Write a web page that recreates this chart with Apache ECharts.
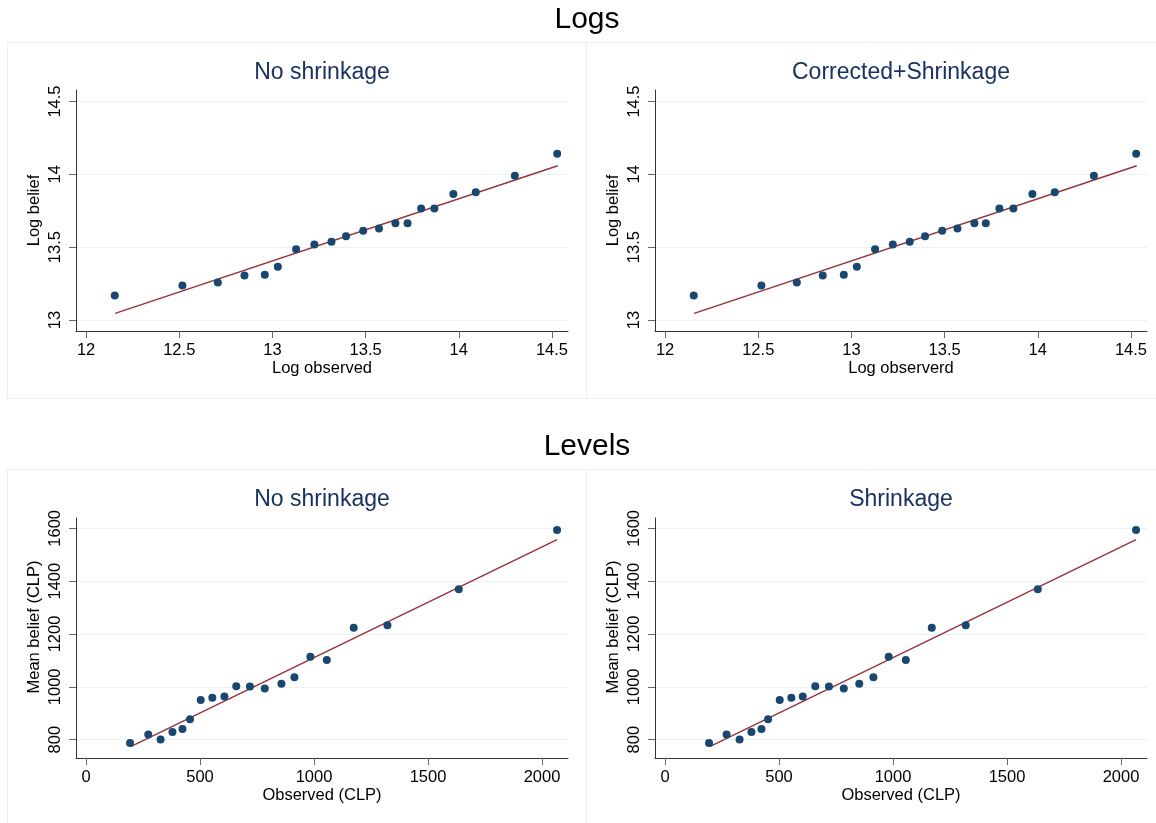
<!DOCTYPE html>
<html>
<head>
<meta charset="utf-8">
<script src="https://cdn.jsdelivr.net/npm/echarts@6/dist/echarts.min.js"></script>
<style>
html,body{margin:0;padding:0;background:#fff;}
#chart{width:1156px;height:823px;}
</style>
</head>
<body>
<div id="chart"></div>
<script>
// ---- Data ----
const logObsNoShrink   = [12.154, 12.517, 12.707, 12.850, 12.959, 13.029, 13.127, 13.225, 13.317, 13.395, 13.487, 13.572, 13.660, 13.725, 13.798, 13.869, 13.971, 14.091, 14.301, 14.528];
const logBeliefNoShrink= [13.169, 13.237, 13.258, 13.306, 13.311, 13.365, 13.486, 13.518, 13.537, 13.575, 13.612, 13.628, 13.664, 13.664, 13.765, 13.765, 13.865, 13.877, 13.991, 14.142];
const logObsShrink     = [12.154, 12.517, 12.707, 12.846, 12.959, 13.029, 13.127, 13.222, 13.313, 13.395, 13.487, 13.569, 13.660, 13.721, 13.794, 13.869, 13.971, 14.091, 14.301, 14.528];
const logBeliefShrink  = [13.169, 13.237, 13.258, 13.306, 13.311, 13.365, 13.486, 13.518, 13.537, 13.575, 13.612, 13.628, 13.664, 13.664, 13.765, 13.765, 13.865, 13.877, 13.991, 14.142];
const logFitX = [12.156, 14.531];
const logFitY = [13.046, 14.059];

const levObsNoShrink    = [193, 273, 327, 379, 423, 456, 503, 554, 607, 659, 719, 784, 857, 914, 984, 1056, 1174, 1322, 1635, 2066];
const levBeliefNoShrink = [787, 820, 801, 829, 840, 877, 950, 959, 963, 1002, 1001, 994, 1012, 1036, 1114, 1102, 1224, 1233, 1369, 1594];
const levObsShrink      = [193, 270, 327, 379, 423, 452, 503, 554, 604, 659, 719, 784, 852, 914, 981, 1056, 1170, 1319, 1635, 2066];
const levBeliefShrink   = [787, 820, 801, 829, 840, 877, 950, 959, 963, 1002, 1001, 994, 1012, 1036, 1114, 1102, 1224, 1233, 1369, 1594];
const levFitX = [196, 2066];
const levFitY = [773.5, 1557];

const logXTicks = [12, 12.5, 13, 13.5, 14, 14.5];
const logYTicks = [13, 13.5, 14, 14.5];
const levXTicks = [0, 500, 1000, 1500, 2000];
const levYTicks = [800, 1000, 1200, 1400, 1600];

const mainTitles = ['Logs', 'Levels'];
const panelTitles = ['No shrinkage', 'Corrected+Shrinkage', 'No shrinkage', 'Shrinkage'];
const xNames = ['Log observed', 'Log observerd', 'Observed (CLP)', 'Observed (CLP)'];
const yNames = ['Log belief', 'Log belief', 'Mean belief (CLP)', 'Mean belief (CLP)'];

// ---- Styling ----
const FONT = '"Liberation Sans", Arial, sans-serif';
const DOT = '#1a476f';
const FIT = '#95333a';
const GRIDLINE = '#eaf0f4';
const AXIS = '#333333';

const grids = [
  {left: 76, top: 90, width: 492, height: 241},
  {left: 655, top: 90, width: 492, height: 241},
  {left: 76, top: 518, width: 492, height: 240},
  {left: 655, top: 518, width: 492, height: 240}
];

function zip(a, b) { return a.map((v, i) => [v, b[i]]); }
const plain = v => String(v);

const isLog = [true, true, false, false];
const xAxes = [], yAxes = [], series = [];
const pointsX = [logObsNoShrink, logObsShrink, levObsNoShrink, levObsShrink];
const pointsY = [logBeliefNoShrink, logBeliefShrink, levBeliefNoShrink, levBeliefShrink];

for (let i = 0; i < 4; i++) {
  const lg = isLog[i];
  xAxes.push({
    type: 'value', gridIndex: i,
    min: lg ? 11.946 : -44, max: lg ? 14.586 : 2114,
    name: xNames[i], nameLocation: 'middle', nameGap: 27,
    nameTextStyle: {fontFamily: FONT, fontSize: 16.5, color: '#000'},
    axisLine: {show: true, onZero: false, lineStyle: {color: AXIS, width: 1}},
    axisTick: {show: true, length: 7, inside: false, customValues: lg ? logXTicks : levXTicks, lineStyle: {color: '#666'}},
    axisLabel: {customValues: lg ? logXTicks : levXTicks, formatter: plain, margin: 11, fontFamily: FONT, fontSize: 16.5, color: '#000', hideOverlap: false},
    splitLine: {show: false}
  });
  yAxes.push({
    type: 'value', gridIndex: i,
    min: lg ? 12.9245 : 730.7, max: lg ? 14.579 : 1639,
    name: yNames[i], nameLocation: 'middle', nameGap: 33, nameRotate: 90,
    nameTextStyle: {fontFamily: FONT, fontSize: 16.5, color: '#000', padding: lg ? 0 : [0, 0, 0, 22]},
    axisLine: {show: true, onZero: false, lineStyle: {color: AXIS, width: 1}},
    axisTick: {show: true, length: 7, inside: false, customValues: lg ? logYTicks : levYTicks, lineStyle: {color: '#666'}},
    axisLabel: {customValues: lg ? logYTicks : levYTicks, formatter: plain, rotate: 90, margin: 12, fontFamily: FONT, fontSize: 16.5, color: '#000', hideOverlap: false},
    splitLine: {show: true, lineStyle: {color: GRIDLINE, width: 1}}
  });
  series.push({
    type: 'line', xAxisIndex: i, yAxisIndex: i,
    data: zip(lg ? logFitX : levFitX, lg ? logFitY : levFitY),
    showSymbol: false, symbol: 'none', silent: true,
    lineStyle: {color: FIT, width: 1.4}, z: 2
  });
  series.push({
    type: 'scatter', xAxisIndex: i, yAxisIndex: i,
    data: zip(pointsX[i], pointsY[i]),
    symbol: 'circle', symbolSize: 8,
    itemStyle: {color: DOT, opacity: 1}, z: 3
  });
}

const panelRects = [
  {x: 7, y: 42, w: 579, h: 356},
  {x: 586, y: 42, w: 570, h: 356},
  {x: 7, y: 469, w: 579, h: 354},
  {x: 586, y: 469, w: 570, h: 354}
];

const graphics = [];
panelRects.forEach(r => graphics.push({
  type: 'rect', silent: true, z: -1,
  shape: {x: r.x + 0.5, y: r.y + 0.5, width: r.w, height: r.h},
  style: {fill: null, stroke: '#eeeeee', lineWidth: 1}
}));
graphics.push({type: 'text', x: 587, y: 20, style: {text: mainTitles[0], font: '30px ' + FONT, fill: '#000', textAlign: 'center', textVerticalAlign: 'middle'}});
graphics.push({type: 'text', x: 587, y: 447, style: {text: mainTitles[1], font: '30px ' + FONT, fill: '#000', textAlign: 'center', textVerticalAlign: 'middle'}});
const ptPos = [[322, 73], [901, 73], [322, 500], [901, 500]];
panelTitles.forEach((t, i) => graphics.push({
  type: 'text', x: ptPos[i][0], y: ptPos[i][1],
  style: {text: t, font: '23px ' + FONT, fill: '#1c3160', textAlign: 'center', textVerticalAlign: 'middle'}
}));

const chart = echarts.init(document.getElementById('chart'), null, {renderer: 'canvas'});
chart.setOption({
  animation: false,
  backgroundColor: '#ffffff',
  grid: grids,
  xAxis: xAxes,
  yAxis: yAxes,
  series: series,
  graphic: graphics
});
</script>
</body>
</html>
